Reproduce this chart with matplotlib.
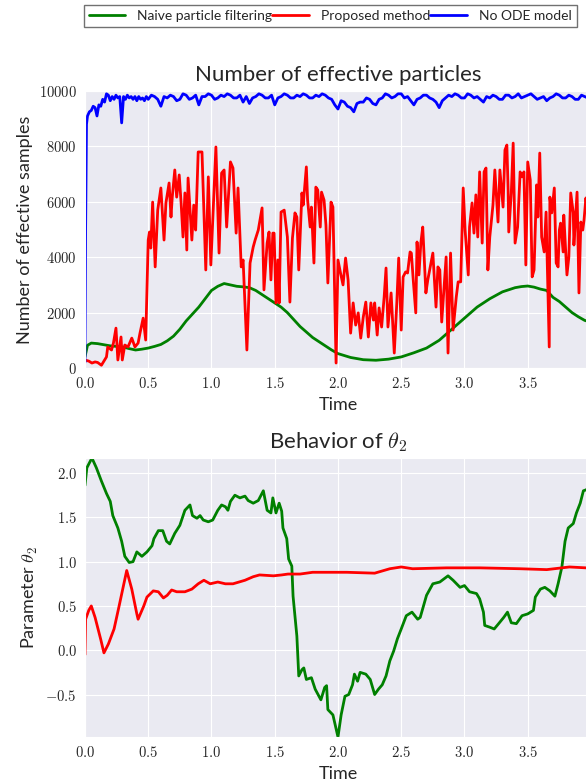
import numpy as np
import matplotlib
matplotlib.use('Agg')
from matplotlib import pyplot as plt
import seaborn as sns

sns.set_style('darkgrid')
plt.rcParams['font.family'] = ['Lato', 'DejaVu Sans']
plt.rcParams['mathtext.fontset'] = 'cm'

# --- effective sample count (top panel) ---
t_naive = [0.0, 0.02, 0.05, 0.1, 0.15, 0.2, 0.25, 0.3, 0.35, 0.4, 0.45, 0.5,
           0.55, 0.6, 0.65, 0.7, 0.75, 0.8, 0.85, 0.9, 0.95, 1.0, 1.05, 1.1,
           1.15, 1.2, 1.25, 1.3, 1.35, 1.4, 1.45, 1.5, 1.55, 1.6, 1.65, 1.7,
           1.75, 1.8, 1.85, 1.9, 1.95, 2.0, 2.1, 2.2, 2.3, 2.4, 2.5, 2.6, 2.7,
           2.8, 2.9, 3.0, 3.1, 3.2, 3.3, 3.4, 3.45, 3.5, 3.55, 3.6, 3.65, 3.7,
           3.75, 3.8, 3.85, 3.9, 3.95, 4.0]
n_naive = [400, 820, 900, 880, 840, 800, 780, 760, 700, 650, 680, 720,
           780, 850, 980, 1150, 1400, 1700, 1950, 2200, 2500, 2800, 2950, 3050,
           3000, 2950, 2930, 2900, 2800, 2650, 2500, 2350, 2200, 2000, 1750, 1500,
           1300, 1100, 950, 800, 650, 520, 380, 300, 280, 320, 400, 550, 720,
           1000, 1400, 1800, 2200, 2500, 2750, 2900, 2940, 2960, 2920, 2850, 2800, 2550,
           2400, 2200, 2000, 1850, 1720, 1650]

t_prop = [0.0, 0.03, 0.055, 0.08, 0.10, 0.13, 0.15, 0.17, 0.18, 0.21, 0.225,
          0.245, 0.26, 0.285, 0.295, 0.315, 0.34, 0.37, 0.395, 0.42, 0.435,
          0.46, 0.48, 0.50, 0.51, 0.52, 0.535, 0.555, 0.575, 0.60, 0.625,
          0.64, 0.665, 0.68, 0.69, 0.71, 0.725, 0.745, 0.76, 0.775, 0.79,
          0.805, 0.815, 0.845, 0.86, 0.875, 0.895, 0.925, 0.955, 0.975, 0.995,
          1.035, 1.06, 1.08, 1.10, 1.12, 1.15, 1.17, 1.195, 1.21, 1.235, 1.25,
          1.28, 1.305, 1.33, 1.345, 1.37, 1.40, 1.415, 1.44, 1.455, 1.47,
          1.485, 1.495, 1.51, 1.525, 1.535, 1.55, 1.575, 1.60, 1.62, 1.64,
          1.66, 1.675, 1.69, 1.715, 1.725, 1.75, 1.76, 1.78, 1.79, 1.81,
          1.825, 1.84, 1.86, 1.87, 1.89, 1.905, 1.92, 1.945, 1.96, 1.985,
          2.00, 2.02, 2.04, 2.06, 2.08, 2.10, 2.12, 2.14, 2.16, 2.18, 2.20,
          2.22, 2.24, 2.26, 2.28, 2.29, 2.31, 2.325, 2.345, 2.365, 2.38,
          2.395, 2.42, 2.445, 2.465, 2.48, 2.50, 2.515, 2.535, 2.55, 2.57,
          2.58, 2.595, 2.615, 2.625, 2.64, 2.655, 2.67, 2.695, 2.71, 2.735,
          2.75, 2.775, 2.79, 2.805, 2.82, 2.855, 2.87, 2.89, 2.91, 2.935,
          2.95, 2.97, 2.99, 3.005, 3.03, 3.04, 3.06, 3.075, 3.09, 3.105,
          3.12, 3.14, 3.155, 3.17, 3.185, 3.20, 3.225, 3.24, 3.265, 3.28,
          3.305, 3.32, 3.335, 3.345, 3.35, 3.37, 3.385, 3.40, 3.42, 3.44,
          3.455, 3.47, 3.485, 3.50, 3.52, 3.535, 3.55, 3.57, 3.58, 3.595,
          3.61, 3.63, 3.645, 3.67, 3.675, 3.69, 3.71, 3.725, 3.74, 3.75,
          3.76, 3.78, 3.785, 3.81, 3.825, 3.84, 3.86, 3.865, 3.89, 3.905,
          3.92, 3.935, 3.945, 3.96, 3.98, 4.0]
n_prop = [290, 250, 180, 220, 200, 100, 250, 400, 760, 650, 900,
          1440, 290, 1120, 290, 830, 760, 1080, 760, 900, 1260,
          1800, 1010, 4620, 4910, 4330, 5990, 3650, 5700, 6500, 4620,
          5960, 6680, 5450, 6170, 7150, 6170, 6970, 5960, 4730, 6320,
          4260, 6860, 4620, 5880, 4980, 7800, 7800, 3540, 6900, 3720,
          7980, 4150, 7040, 7150, 5090, 7440, 7220, 4870, 6500, 3650, 3900,
          650, 3790, 4370, 4620, 4980, 5780, 2820, 4510, 4910, 3180,
          4870, 4870, 2350, 3900, 2350, 5630, 5700, 4730, 2380, 4690,
          5600, 5450, 3540, 6320, 5880, 7260, 6060, 5090, 5810, 3790,
          6530, 6430, 5090, 6350, 6060, 5160, 3070, 5990, 5810, 180,
          3900, 3430, 3000, 3970, 3180, 1260, 2350, 1550, 1990, 1080, 1840,
          2380, 1120, 2350, 1730, 2350, 1190, 2170, 1480, 2560, 3610,
          1480, 2710, 540, 2350, 3970, 1370, 3290, 3470, 3430, 4190,
          4150, 3180, 1990, 4550, 3360, 4510, 5090, 2710, 3180, 3790,
          4150, 2200, 3650, 3540, 1660, 4010, 540, 4150, 1370, 2560,
          3110, 3110, 6500, 4980, 3360, 5090, 5960, 4870, 6250, 4730,
          7080, 4510, 7080, 7220, 3540, 4730, 5880, 7150, 5270, 7150,
          5810, 7870, 8050, 6430, 4910, 6320, 8120, 4510, 5090, 7080,
          6900, 7080, 3720, 7440, 6790, 3290, 3540, 6610, 5450, 7760,
          4730, 4190, 5630, 760, 6170, 5600, 6500, 3790, 3650, 4980,
          5230, 4190, 5520, 3360, 4010, 6320, 5600, 4440, 6350, 2710,
          5270, 4980, 5340, 6140, 5200, 5800]

t_noode_start = [0.0, 0.005, 0.012, 0.02, 0.035, 0.05, 0.065, 0.08, 0.095,
                 0.11, 0.125, 0.14, 0.155, 0.17, 0.185, 0.2, 0.215, 0.23,
                 0.245, 0.26, 0.275, 0.29, 0.305, 0.32, 0.335, 0.35, 0.365,
                 0.38, 0.395, 0.41, 0.425, 0.44, 0.455, 0.47, 0.485]
n_noode_start = [200, 5000, 8800, 9100, 9250, 9300, 9450, 9400, 9100,
                 9500, 9450, 9700, 9600, 9900, 9850, 9650, 9800, 9700,
                 9850, 9750, 9800, 8850, 9800, 9700, 9850, 9750, 9800,
                 9700, 9800, 9650, 9800, 9700, 9750, 9650, 9800]
n_noode_rest = [9700, 9850, 9800, 9700, 9450, 9800, 9750, 9850, 9800, 9650,
                9700, 9900, 9850, 9700, 9750, 9850, 9500, 9800, 9800, 9900,
                9850, 9700, 9750, 9850, 9800, 9900, 9850, 9750, 9750, 9850,
                9600, 9800, 9550, 9750, 9800, 9900, 9850, 9750, 9750, 9850,
                9500, 9750, 9800, 9900, 9850, 9750, 9750, 9850, 9800, 9900,
                9850, 9750, 9750, 9850, 9800, 9900, 9850, 9750, 9700, 9500,
                9350, 9650, 9600, 9450, 9400, 9250, 9550, 9600, 9600, 9750,
                9700, 9550, 9500, 9700, 9750, 9900, 9850, 9750, 9800, 9900,
                9900, 9750, 9800, 9650, 9500, 9700, 9750, 9850, 9850, 9750,
                9700, 9600, 9400, 9650, 9750, 9850, 9800, 9900, 9850, 9750,
                9750, 9900, 9850, 9750, 9800, 9700, 9600, 9800, 9750, 9850,
                9800, 9700, 9700, 9850, 9850, 9750, 9800, 9900, 9750, 9800,
                9850, 9900, 9800, 9700, 9750, 9800, 9650, 9750, 9800, 9900,
                9850, 9750, 9750, 9850, 9800, 9700, 9700, 9850, 9800, 9750,
                9800]
t_noode = t_noode_start + list(np.arange(0.5, 4.0001, 0.025))
n_noode = n_noode_start + n_noode_rest

# --- theta_2 estimate (bottom panel) ---
t_th_naive = [0.0, 0.015, 0.055, 0.09, 0.13, 0.17, 0.2, 0.22, 0.26, 0.29,
              0.315, 0.35, 0.38, 0.41, 0.45, 0.49, 0.53, 0.545, 0.58, 0.615,
              0.645, 0.67, 0.71, 0.75, 0.79, 0.83, 0.85, 0.885, 0.91, 0.935,
              0.975, 1.01, 1.05, 1.08, 1.11, 1.13, 1.15, 1.185, 1.225, 1.265,
              1.29, 1.33, 1.37, 1.41, 1.44, 1.47, 1.485, 1.51, 1.535, 1.555,
              1.565, 1.595, 1.61, 1.635, 1.645, 1.675, 1.69, 1.715, 1.73,
              1.75, 1.79, 1.82, 1.865, 1.895, 1.91, 1.92, 1.96, 2.0, 2.025,
              2.055, 2.085, 2.115, 2.13, 2.155, 2.175, 2.22, 2.255, 2.29,
              2.32, 2.35, 2.38, 2.41, 2.44, 2.47, 2.50, 2.54, 2.585, 2.63,
              2.65, 2.70, 2.75, 2.805, 2.87, 2.91, 2.965, 3.0, 3.04, 3.095,
              3.12, 3.15, 3.16, 3.2, 3.235, 3.27, 3.31, 3.34, 3.37, 3.41,
              3.455, 3.5, 3.545, 3.56, 3.6, 3.635, 3.675, 3.715, 3.74, 3.77,
              3.795, 3.82, 3.86, 3.885, 3.915, 3.94, 3.96, 4.0]
th_naive = [1.86, 2.06, 2.17, 2.06, 1.91, 1.77, 1.68, 1.52, 1.38, 1.23,
            1.06, 0.99, 1.0, 1.11, 1.06, 1.11, 1.18, 1.26, 1.35, 1.35,
            1.23, 1.20, 1.32, 1.41, 1.58, 1.64, 1.52, 1.49, 1.52, 1.47,
            1.45, 1.47, 1.58, 1.64, 1.62, 1.58, 1.68, 1.75, 1.72, 1.74,
            1.69, 1.66, 1.69, 1.80, 1.58, 1.55, 1.72, 1.55, 1.66, 1.57,
            1.38, 1.26, 1.03, 0.95, 0.61, 0.16, -0.29, -0.22, -0.20,
            -0.33, -0.31, -0.44, -0.56, -0.42, -0.40, -0.67, -0.73, -0.98, -0.73,
            -0.52, -0.50, -0.39, -0.27, -0.35, -0.25, -0.27, -0.33, -0.50,
            -0.44, -0.39, -0.29, -0.12, -0.01, 0.13, 0.24, 0.39, 0.43, 0.35,
            0.37, 0.62, 0.75, 0.77, 0.84, 0.79, 0.71, 0.73, 0.66, 0.64,
            0.58, 0.43, 0.28, 0.26, 0.24, 0.30, 0.37, 0.43, 0.31, 0.30,
            0.39, 0.41, 0.45, 0.60, 0.69, 0.71, 0.67, 0.61, 0.75, 0.94,
            1.23, 1.38, 1.43, 1.55, 1.66, 1.80, 1.81, 1.85]

t_th_prop = [0.0, 0.005, 0.03, 0.05, 0.08, 0.125, 0.15, 0.185, 0.23, 0.27,
             0.33, 0.37, 0.41, 0.42, 0.465, 0.49, 0.54, 0.58, 0.62, 0.65,
             0.685, 0.725, 0.79, 0.845, 0.895, 0.94, 0.99, 1.05, 1.11, 1.17,
             1.265, 1.33, 1.38, 1.49, 1.555, 1.605, 1.70, 1.80, 2.07, 2.29,
             2.41, 2.50, 2.59, 2.86, 3.12, 3.44, 3.65, 3.83, 3.96, 4.0]
th_prop = [-0.05, 0.35, 0.45, 0.50, 0.37, 0.12, -0.03, 0.07, 0.24, 0.50,
           0.90, 0.69, 0.41, 0.35, 0.50, 0.60, 0.67, 0.66, 0.59, 0.62,
           0.68, 0.66, 0.66, 0.69, 0.75, 0.79, 0.75, 0.77, 0.75, 0.75,
           0.79, 0.83, 0.85, 0.84, 0.85, 0.86, 0.86, 0.88, 0.88, 0.87,
           0.92, 0.94, 0.92, 0.93, 0.93, 0.92, 0.91, 0.94, 0.93, 0.93]

x_ticks = [0.0, 0.5, 1.0, 1.5, 2.0, 2.5, 3.0, 3.5]
y_ticks_top = [0, 2000, 4000, 6000, 8000, 10000]
y_ticks_bottom = [-0.5, 0.0, 0.5, 1.0, 1.5, 2.0]

fig = plt.figure(figsize=(5.86, 7.82), dpi=100)
ax1 = fig.add_axes([0.145, 0.5294, 0.8635, 0.3542])
ax2 = fig.add_axes([0.145, 0.0575, 0.8635, 0.3568])

l1, = ax1.plot(t_naive, n_naive, color='g', lw=2, label='Naive particle filtering')
l2, = ax1.plot(t_prop, n_prop, color='r', lw=2, label='Proposed method')
l3, = ax1.plot(t_noode, n_noode, color='b', lw=2, label='No ODE model')
ax1.set_xlim(0, 4)
ax1.set_ylim(0, 10000)
ax1.set_title('Number of effective particles', fontsize=16, pad=7)
ax1.set_xlabel('Time', fontsize=13, labelpad=4)
ax1.set_ylabel('Number of effective samples', fontsize=13)

ax2.plot(t_th_naive, th_naive, color='g', lw=2)
ax2.plot(t_th_prop, th_prop, color='r', lw=2)
ax2.set_xlim(0, 4)
ax2.set_ylim(min(th_naive), max(th_naive))
ax2.set_title(r'Behavior of $\theta_2$', fontsize=16, pad=7)
ax2.set_xlabel('Time', fontsize=13, labelpad=4)
ax2.set_ylabel(r'Parameter $\theta_2$', fontsize=13)

for ax, yt in ((ax1, y_ticks_top), (ax2, y_ticks_bottom)):
    ax.set_xticks(x_ticks)
    ax.set_xticklabels(['$%.1f$' % v for v in x_ticks], fontsize=10.5)
    ax.set_yticks(yt)
    if ax is ax1:
        ax.set_yticklabels(['$%d$' % v for v in yt], fontsize=10.5)
    else:
        ax.set_yticklabels(['$%.1f$' % v for v in yt], fontsize=10.5)
    ax.tick_params(length=0, pad=6)

fig.legend(handles=[l1, l2, l3], loc='upper left', ncol=3,
           bbox_to_anchor=(84 / 586, 1 - 5 / 782), borderaxespad=0,
           fontsize=10, frameon=True, facecolor='white', edgecolor='0.3',
           fancybox=False, handlelength=2.6, handletextpad=0.9,
           columnspacing=0.0, borderpad=0.35)

fig.savefig('out.png', dpi=100)
